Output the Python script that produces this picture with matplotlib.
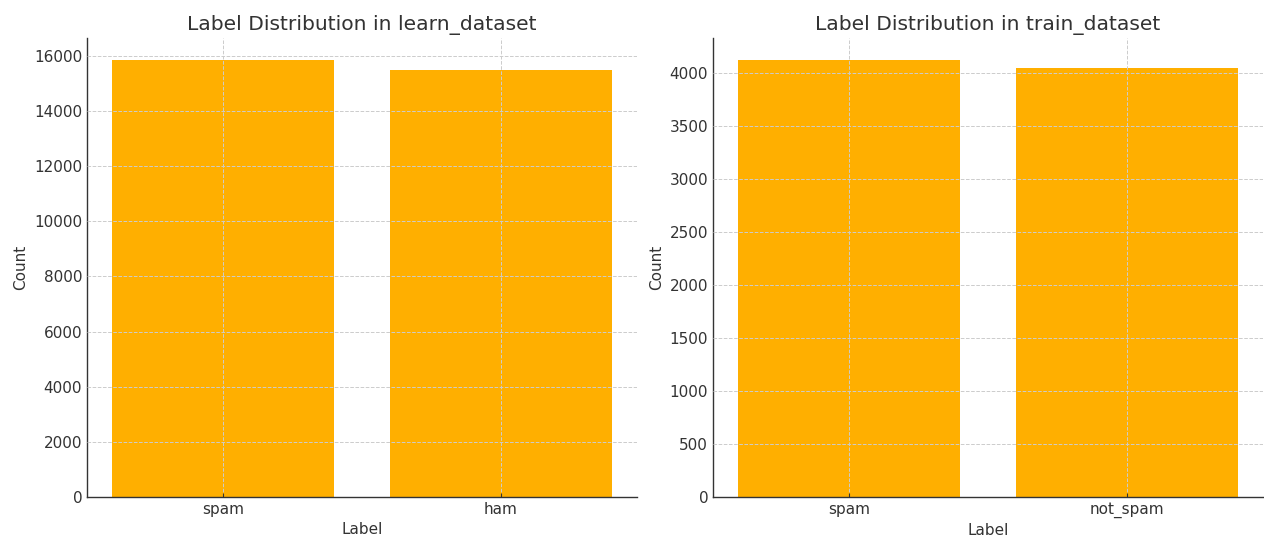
import matplotlib
matplotlib.use("Agg")
import matplotlib.pyplot as plt

learn_labels = ["spam", "ham"]
learn_counts = [15856, 15504]
train_labels = ["spam", "not_spam"]
train_counts = [4120, 4042]

bar_color = "#FFAF00"
text_color = "#333333"

plt.rcParams["font.family"] = ["DejaVu Sans"]
plt.rcParams["text.color"] = text_color
plt.rcParams["axes.labelcolor"] = text_color
plt.rcParams["xtick.color"] = text_color
plt.rcParams["ytick.color"] = text_color

fig = plt.figure(figsize=(12.64, 5.37), dpi=100)
ax1 = fig.add_axes([87/1264, 1 - 497/537, 550/1264, 459/537])
ax2 = fig.add_axes([713/1264, 1 - 497/537, 550/1264, 459/537])

for ax, labels, counts, title in [
    (ax1, learn_labels, learn_counts, "Label Distribution in learn_dataset"),
    (ax2, train_labels, train_counts, "Label Distribution in train_dataset"),
]:
    ax.bar(labels, counts, color=bar_color, width=0.8, zorder=2)
    ax.set_title(title, fontsize=14.6, color=text_color, pad=6)
    ax.set_xlabel("Label", fontsize=11)
    ax.set_ylabel("Count", fontsize=11)
    ax.grid(True, linestyle="--", color="#cccccc", linewidth=0.7, zorder=0)
    ax.set_axisbelow(False)
    for s in ["top", "right"]:
        ax.spines[s].set_visible(False)
    for s in ["left", "bottom"]:
        ax.spines[s].set_color("#333333")
        ax.spines[s].set_linewidth(1.0)
    ax.tick_params(axis="x", direction="in", length=3, labelsize=11)
    ax.tick_params(axis="y", length=0, labelsize=11)

fig.savefig("out.png", dpi=100)
